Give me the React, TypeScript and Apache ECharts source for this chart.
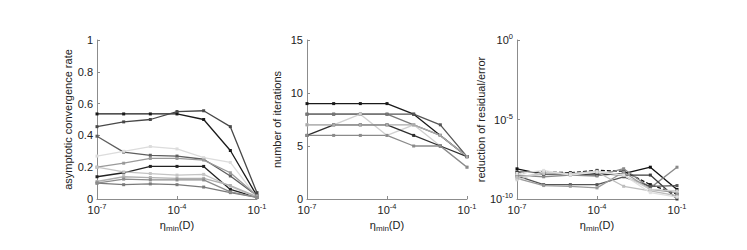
import React, { useEffect, useRef } from "react";
import * as echarts from "echarts";

// x positions: eta_min(D)
const etaMin = [1e-7, 1e-6, 1e-5, 1e-4, 1e-3, 1e-2, 1e-1];

// Panel 1: asymptotic convergence rate
const rateSeries: number[][] = [
  [0.535, 0.535, 0.535, 0.535, 0.5, 0.305, 0.02],
  [0.455, 0.485, 0.5, 0.55, 0.555, 0.455, 0.04],
  [0.395, 0.295, 0.275, 0.27, 0.25, 0.145, 0.02],
  [0.27, 0.3, 0.33, 0.315, 0.26, 0.23, 0.01],
  [0.2, 0.225, 0.255, 0.255, 0.245, 0.165, 0.02],
  [0.14, 0.165, 0.205, 0.205, 0.205, 0.06, 0.01],
  [0.2, 0.17, 0.16, 0.15, 0.155, 0.08, 0.01],
  [0.11, 0.14, 0.135, 0.13, 0.13, 0.085, 0.015],
  [0.1, 0.09, 0.095, 0.09, 0.075, 0.04, 0.01],
  [0.1, 0.125, 0.12, 0.12, 0.12, 0.045, 0.01],
];
const rateColors = ["#1a1a1a", "#484848", "#5e5e5e", "#dcdcdc", "#9a9a9a", "#222222", "#c4c4c4", "#b0b0b0", "#7a7a7a", "#8c8c8c"];

// Panel 2: number of iterations
const iterSeries: number[][] = [
  [9, 9, 9, 9, 8, 6, 4],
  [8, 8, 8, 8, 8, 7, 4],
  [8, 8, 8, 8, 7, 6, 4],
  [7, 7, 8, 6, 7, 5, 3],
  [6, 7, 7, 7, 6, 5, 4],
  [6, 6, 6, 6, 5, 5, 3],
  [7, 7, 7, 7, 7, 6, 4],
];
const iterColors = ["#1a1a1a", "#555555", "#777777", "#d0d0d0", "#2e2e2e", "#8a8a8a", "#aaaaaa"];

// Panel 3: reduction of residual/error
const reductionSeries: number[][] = [
  [7.9e-9, 3.5e-9, 3.5e-9, 3.2e-9, 4e-9, 1e-8, 4e-10],
  [4.5e-9, 5e-9, 4.5e-9, 6.3e-9, 5.6e-9, 8e-10, 2e-10],
  [3.2e-9, 2.5e-9, 3.2e-9, 2.8e-9, 8e-9, 5e-10, 1e-8],
  [5e-9, 4.5e-9, 4e-9, 4e-9, 3.2e-9, 3.2e-9, 1e-10],
  [2.8e-9, 8e-10, 8e-10, 8e-10, 2.5e-9, 6.3e-10, 7e-10],
  [2e-9, 7e-10, 6.3e-10, 5e-10, 5e-9, 4e-10, 2.5e-10],
  [2.5e-9, 4e-9, 3.5e-9, 5e-9, 6.3e-10, 3.2e-10, 1.6e-10],
  [1.6e-9, 5e-9, 4e-9, 5.6e-9, 3.2e-9, 4e-10, 3.2e-10],
  [4e-9, 6.3e-9, 3.2e-9, 5e-9, 3.2e-9, 2.5e-10, 1.3e-10],
];
const reductionColors = ["#111111", "#111111", "#8a8a8a", "#3c3c3c", "#555555", "#9a9a9a", "#bdbdbd", "#cfcfcf", "#e0e0e0"];
const reductionDashed = [false, true, false, false, false, false, false, false, false];

const panelLabels = ["asymptotic convergence rate", "number of iterations", "reduction of residual/error"];

const xExp = etaMin.map((v) => Math.round(Math.log10(v)));

const FONT = "Liberation Sans";
const AXIS_COLOR = "#8c8c8c";
const TEXT_COLOR = "#222";

const richSup = {
  base: { fontSize: 11, fontFamily: FONT, color: TEXT_COLOR },
  sup: { fontSize: 7.5, fontFamily: FONT, color: TEXT_COLOR, padding: [0, 0, 7, 0] },
};

const powLabel = (v: number) => `{base|10}{sup|${Math.round(v)}}`;

export default function App() {
  const ref = useRef<HTMLDivElement>(null);
  useEffect(() => {
    if (!ref.current) return;
    const chart = echarts.init(ref.current, undefined, { renderer: "svg" });
    const lefts = [97, 307, 517];
    const grids = lefts.map((l) => ({ left: l, top: 40, width: 160, height: 159 }));

    const xAxes = lefts.map((_, i) => ({
      type: "value",
      gridIndex: i,
      min: -7,
      max: -1,
      interval: 3,
      name: "{eta|η}{sub|min}{eta|(D)}",
      nameLocation: "middle",
      nameGap: 14,
      nameTextStyle: {
        color: TEXT_COLOR,
        rich: {
          eta: { fontSize: 11, fontFamily: FONT, color: TEXT_COLOR },
          sub: { fontSize: 8, fontFamily: FONT, color: TEXT_COLOR, padding: [7, 0, 0, 0] },
        },
      },
      axisLine: { onZero: false, lineStyle: { color: AXIS_COLOR, width: 1 } },
      axisTick: { inside: true, length: 3, lineStyle: { color: AXIS_COLOR } },
      splitLine: { show: false },
      axisLabel: { margin: 3, color: TEXT_COLOR, formatter: powLabel, rich: richSup },
    }));

    const baseY = {
      nameLocation: "middle",
      nameRotate: 90,
      axisLine: { show: true, onZero: false, lineStyle: { color: AXIS_COLOR, width: 1 } },
      axisTick: { show: true, inside: true, length: 3, lineStyle: { color: AXIS_COLOR } },
      splitLine: { show: false },
    };
    const yAxes = [
      {
        ...baseY,
        type: "value",
        gridIndex: 0,
        min: 0,
        max: 1,
        interval: 0.2,
        name: panelLabels[0],
        nameGap: 21,
        nameTextStyle: { fontSize: 11, fontFamily: FONT, color: TEXT_COLOR },
        axisLabel: {
          margin: 4,
          fontSize: 11,
          fontFamily: FONT,
          color: TEXT_COLOR,
          formatter: (v: number) => (v === 0 ? "0" : v === 1 ? "1" : v.toFixed(1)),
        },
      },
      {
        ...baseY,
        type: "value",
        gridIndex: 1,
        min: 0,
        max: 15,
        interval: 5,
        name: panelLabels[1],
        nameGap: 25,
        nameTextStyle: { fontSize: 11, fontFamily: FONT, color: TEXT_COLOR },
        axisLabel: { margin: 4, fontSize: 11, fontFamily: FONT, color: TEXT_COLOR },
      },
      {
        ...baseY,
        type: "value",
        gridIndex: 2,
        min: -10,
        max: 0,
        interval: 5,
        name: panelLabels[2],
        nameGap: 29,
        nameTextStyle: { fontSize: 11, fontFamily: FONT, color: TEXT_COLOR },
        axisLabel: { margin: 4, color: TEXT_COLOR, formatter: powLabel, rich: richSup },
      },
    ];

    const series: any[] = [];
    const addLine = (idx: number, vals: number[], color: string, dashed = false, tf = (v: number) => v) => {
      series.push({
        type: "line",
        xAxisIndex: idx,
        yAxisIndex: idx,
        data: xExp.map((x, j) => [x, tf(vals[j])]),
        symbol: "rect",
        symbolSize: 3,
        showSymbol: true,
        clip: false,
        lineStyle: { color, width: 1.3, type: dashed ? [4, 2] : "solid" },
        itemStyle: { color },
        emphasis: { disabled: true },
      });
    };
    rateSeries.forEach((s, i) => addLine(0, s, rateColors[i]));
    iterSeries.forEach((s, i) => addLine(1, s, iterColors[i]));
    reductionSeries.forEach((s, i) => addLine(2, s, reductionColors[i], reductionDashed[i], (v) => Math.log10(v)));

    chart.setOption({
      animation: false,
      backgroundColor: "#fff",
      grid: grids,
      xAxis: xAxes,
      yAxis: yAxes,
      series,
    });
    return () => chart.dispose();
  }, []);
  return <div ref={ref} style={{ position: "fixed", left: 0, top: 0, width: 747, height: 250 }} />;
}
